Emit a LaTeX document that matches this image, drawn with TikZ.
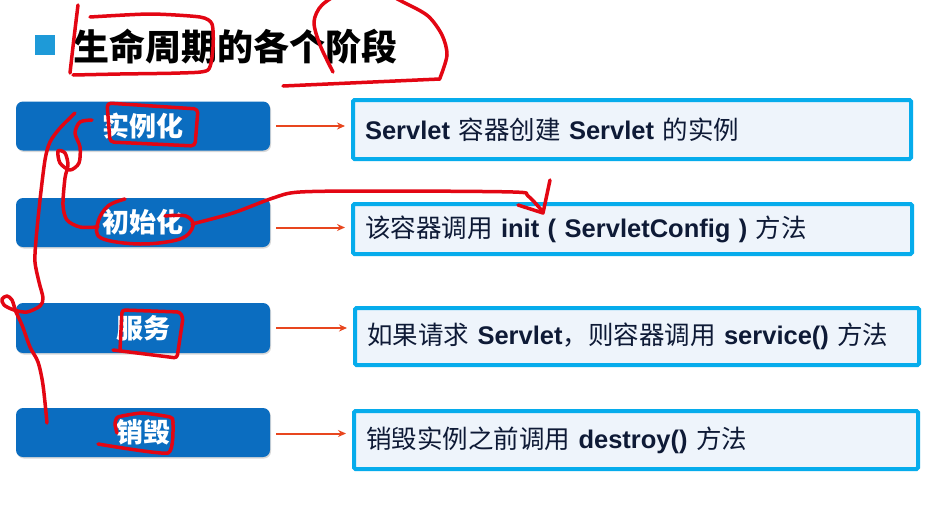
\documentclass[tikz,border=0pt]{standalone}
\usepackage{fontspec}
\setmainfont{Liberation Sans}
\newfontfamily\cjk{Noto Sans CJK SC}
\usetikzlibrary{arrows.meta,shadows}
\definecolor{lblue}{HTML}{0B6DC0}
\definecolor{cyanb}{HTML}{06ACEC}
\definecolor{rfill}{HTML}{EEF4FB}
\definecolor{arrc}{HTML}{E8461E}
\definecolor{scrib}{HTML}{E30613}
\definecolor{txt}{HTML}{0E1A36}
\definecolor{bulletc}{HTML}{1E9AD8}
\newcommand\en[1]{{\bfseries #1}}
\tikzset{
  lbox/.style={fill=lblue, rounded corners=7pt, minimum width=254pt, minimum height=49pt,
    inner sep=0pt, text=white, font=\cjk\bfseries\fontsize{27}{30}\selectfont,
    drop shadow={shadow xshift=1pt, shadow yshift=-1.5pt, opacity=0.25, fill=black!60}},
  rbox/.style={draw=cyanb, line width=4pt, fill=rfill, rounded corners=1.5pt,
    inner xsep=12pt, inner ysep=0pt, align=left, text=txt,
    font=\fontsize{25.5}{30}\selectfont},
  arr/.style={draw=arrc, line width=2pt, -{Stealth[length=8pt,width=7pt]}, shorten <=6pt, shorten >=6pt},
  scr/.style={draw=scrib, line width=3.5pt, line cap=round, line join=round}
}
\begin{document}
\begin{tikzpicture}[x=1pt,y=-1pt]
\useasboundingbox (0,0) rectangle (933,509);
\clip (0,0) rectangle (933,509);
\fill[white] (0,0) rectangle (933,509);

% title
\fill[bulletc] (35,35) rectangle (55,55);
\node[anchor=west, inner sep=0pt, font=\cjk\bfseries\fontsize{36}{40}\selectfont] (title) at (73,47) {生命周期的各个阶段};

% left boxes
\node[lbox] (l1) at (143,126) {实例化};
\node[lbox] (l2) at (143,222.5) {初始化};
\node[lbox, minimum height=50pt] (l3) at (143,328) {服务};
\node[lbox] (l4) at (143,432.5) {销毁};

% right boxes
\node[rbox, minimum height=59pt, text width=534pt] (r1) at (632,129.5)
  {\en{Servlet} {\cjk 容器创建} \en{Servlet} {\cjk 的实例}};
\node[rbox, minimum height=50pt, text width=535pt] (r2) at (632.5,229)
  {{\cjk 该容器调用} \en{init ( ServletConfig )} {\cjk 方法}};
\node[rbox, minimum height=57pt, text width=540pt] (r3) at (637,336.5)
  {{\cjk 如果请求} \en{Servlet}{\cjk ，则容器调用} \en{service()} {\cjk 方法}};
\node[rbox, minimum height=58pt, text width=540pt] (r4) at (636,440)
  {{\cjk 销毁实例之前调用} \en{destroy()} {\cjk 方法}};

% arrows
\draw[arr] (l1.east) -- (l1.east -| r1.west);
\draw[arr] ([yshift=-5pt]l2.east) -- ([yshift=-5pt]l2.east -| r2.west);
\draw[arr] (l3.east) -- (l3.east -| r3.west);
\draw[arr] ([yshift=-1pt]l4.east) -- ([yshift=-1pt]l4.east -| r4.west);

% handwritten annotations
\draw[scr] plot[smooth] coordinates {(78,5) (74,38) (70,73)};
\draw[scr] plot[smooth, tension=0.4] coordinates {(90,17) (150,14) (200,17) (212,24) (213,47) (208,70) (180,73) (120,74) (73,75)};
\draw[scr] plot[smooth] coordinates {(333,72) (320,45) (314,22) (322,5) (345,-8) (380,-8) (405,3) (428,16) (442,35) (447,55) (440,78)};
\draw[scr] (440,79) -- (283,86);
\draw[scr, rounded corners=4pt] (107,103) -- (198,109) -- (195,146) -- (110,142) -- cycle;
\draw[scr] plot[smooth, tension=0.5] coordinates {(75,113) (60,128) (50,142) (45,160) (40,200) (36,240) (35,262) (39,282) (43,298) (40,306) (27,312) (14,310) (4,305) (2,299) (7,296) (12,300) (16,312) (22,325) (30,347) (38,362) (43,385) (47,423)};
\draw[scr] plot[smooth, tension=0.5] coordinates {(92,120) (80,122) (75,133) (80,147) (79,163) (70,170) (60,163) (58,151) (65,153) (68,165) (65,178) (63,205) (67,220) (80,227) (98,227)};
\draw[scr] plot[smooth, tension=0.6] coordinates {(125,199) (108,206) (98,222) (101,238) (140,244) (180,239) (193,226) (186,216) (165,216)};
\draw[scr] plot[smooth, tension=0.5] coordinates {(192,224) (233,213) (273,198) (300,192) (380,191) (513,192) (528,196) (543,212)};
\draw[scr] (550,180) -- (543,213) -- (518,205);
\draw[scr, rounded corners=3pt] (113,350) -- (177,358) -- (183,318) -- (180,312) -- (122,310) -- (120,350);
\draw[scr] plot[smooth, tension=0.3] coordinates {(98,444) (168,453) (173,422) (170,417) (142,413) (118,417) (115,424) (117,433)};
\end{tikzpicture}
\end{document}
